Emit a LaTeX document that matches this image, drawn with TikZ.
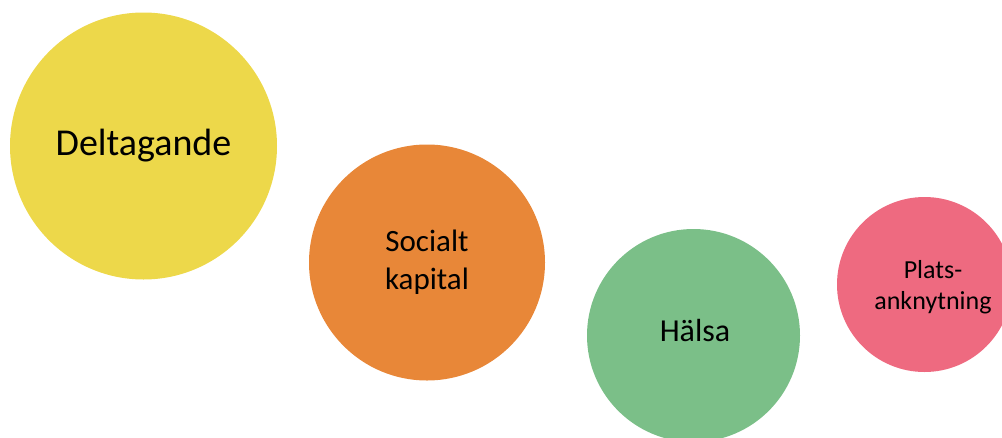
\documentclass[tikz,border=0pt]{standalone}
\usepackage{fontspec}
\setmainfont{Carlito}
\usepackage{tikz}
\usetikzlibrary{positioning}

\definecolor{delta}{HTML}{EDD84A}
\definecolor{social}{HTML}{E88738}
\definecolor{halsa}{HTML}{7BBF88}
\definecolor{plats}{HTML}{EE6A80}

\begin{document}
\begin{tikzpicture}[
    x=1pt, y=-1pt,
every node/.style = {inner sep=0pt},
    bubble/.style = {circle, draw=none, align=center, text=black}]
\useasboundingbox (0,0) rectangle (1002,437);

\node[bubble, fill=delta, minimum size=267pt,
      font=\fontsize{38}{46}\selectfont] (del) at (143.5,146) {Deltagande};

\node[bubble, fill=social, minimum size=236pt,
      font=\fontsize{31}{38}\selectfont] (soc) at (427,262.5) {Socialt\\kapital};

\node[bubble, fill=halsa, minimum size=213pt] (hal) at (693.5,335.5) {};
\node[font=\fontsize{32}{38}\selectfont] (haltext) at (695,331) {Hälsa};

\node[bubble, fill=plats, minimum size=175pt] (pla) at (924.5,284.5) {};
\node[align=center, font=\fontsize{26}{31}\selectfont] (platext) at (933,287) {Plats-\\anknytning};
\end{tikzpicture}
\end{document}
